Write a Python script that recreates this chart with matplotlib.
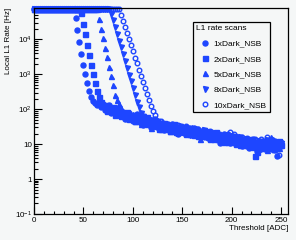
import numpy as np
import matplotlib
matplotlib.use("Agg")
import matplotlib.pyplot as plt
from matplotlib.ticker import FixedLocator, FixedFormatter, NullFormatter

plt.rcParams['font.family'] = ['Liberation Sans', 'DejaVu Sans']
plt.rcParams['mathtext.default'] = 'regular'

# scan thresholds [ADC], one point every 2 ADC
thresholds = np.arange(0, 251, 2)

# L1 rates [Hz] for each NSB level (plateau = saturated rate)
plateau = 72000
rate_1x = [plateau] * 21 + [
    41000, 19000, 8500, 3700, 1800, 1000, 560, 340, 220, 170, 150, 135,
    148, 112, 140, 95, 107, 128, 78, 98, 77, 107, 67, 74, 82, 52, 69, 77,
    55, 47, 63, 72, 48, 50, 36, 56, 45, 37, 48, 38, 51, 30, 38, 31.5, 41,
    25, 35, 31, 26, 37.5, 26, 29, 19, 30.5, 26, 20.4, 30, 23, 26, 18.4, 29,
    20, 21.5, 16, 24, 19, 24, 15, 19.5, 16, 21, 14.5, 18, 11, 16, 20, 13.5,
    15, 11, 16, 12, 15.5, 10.6, 12, 9, 14.4, 10.4, 12, 7.7, 11, 13.6, 8.4,
    6.3, 11, 9, 12.5, 7.5, 10, 13.5, 8.5, 11, 6.9, 4.6, 11.5, 8.6]
rate_2x = [plateau] * 24 + [
    56000, 28000, 14000, 7000, 3500, 1900, 1000, 560, 330, 220, 165, 135,
    129, 91, 107, 87, 116, 69, 82, 95, 63, 78, 66, 86, 51, 61, 68, 46, 58,
    64, 42.5, 53, 42, 58, 43, 34, 44, 35, 45.6, 27, 38.5, 32, 41, 27, 34,
    24.4, 30, 37.7, 22.4, 29.7, 23.9, 31, 25.5, 20, 27.6, 20, 25, 20, 27.5,
    17, 23, 18, 24, 17.5, 21, 14, 19, 15.8, 22, 14, 17.6, 12.8, 15.5, 18,
    11.6, 15.4, 12.6, 16.9, 10.4, 13.8, 10.8, 14.4, 9.2, 12, 9.9, 14.3, 8.8,
    10.5, 4.6, 6, 11.5, 8.5, 12, 9, 11, 8, 13, 9, 10.8, 7.8, 12, 9.5]
rate_5x = [plateau] * 33 + [
    38000, 20000, 11000, 5800, 3100, 1650, 900, 480, 260, 180, 140, 110,
    71, 83, 56, 70, 55, 74, 46, 55, 61, 37.5, 50, 56, 38, 47, 29.4, 40, 47,
    34, 40, 28, 42.5, 30, 32, 35.6, 24.4, 33, 27.5, 33.6, 23, 26.5, 23.4,
    30.6, 21, 26.4, 22.3, 30, 18, 22, 24.7, 13.7, 21, 22, 16.6, 22.8, 16.7,
    19.8, 14, 17, 20.6, 14.4, 16.8, 11.6, 17.3, 14.5, 18.2, 11.9, 13.5,
    11.7, 15, 9.6, 13.2, 10.4, 15, 9.4, 11, 13.2, 8.4, 11.6, 9.5, 13.5, 8,
    10, 12, 7, 11, 16, 14, 8.3, 10.7, 7.7, 11.4]
rate_8x = [plateau] * 39 + [
    52000, 35000, 22000, 14500, 9100, 5900, 3800, 2400, 1550, 980, 630,
    400, 260, 165, 112, 80,
    62, 42, 50, 34, 50, 36, 41, 47.5, 30.6, 38.5, 27, 33, 38.4, 26, 33.5,
    27, 34.8, 21, 28.4, 33, 22, 28, 23.8, 28.8, 18.8, 24, 20, 26.4, 18.3,
    23, 16.8, 25, 18.5, 20, 22.2, 14.4, 19.3, 15.3, 19.8, 13.6, 17.6, 14,
    18.8, 11.6, 14.7, 16.8, 10.8, 14.3, 11.3, 15.6, 10.2, 11.5, 13.8, 8.8,
    12.1, 9.9, 13.1, 8.9, 10.5, 12, 7.5, 11, 9, 13, 8, 10, 12, 8.3, 10.7,
    8.6, 10.9]
rate_10x = [plateau] * 44 + [
    49000, 33000, 22400, 14800, 10000, 6800, 4500, 3000, 2040, 1350, 910,
    620, 410, 275, 186, 125, 88, 68,
    45.6, 36, 45.5, 29, 38, 28.8, 38.8, 30.5, 24, 34.8, 28, 35, 22.5, 30,
    23, 32.5, 19.2, 28.2, 21.9, 25.9, 18.7, 28, 18.9, 23.1, 16, 23.4, 19,
    24, 15.3, 19.3, 21.3, 14.9, 18.4, 13.6, 18.6, 15, 18.9, 22, 16.8, 19.6,
    11.7, 14.4, 12, 15.6, 9.8, 12.7, 14.9, 9.9, 12.7, 10.5, 13.7, 8.9, 12,
    14, 9, 11, 16, 8.5, 12, 7, 12.7, 8.7, 5, 11.9]

labels = ['1xDark_NSB', '2xDark_NSB', '5xDark_NSB', '8xDark_NSB', '10xDark_NSB']
markers = ['o', 's', '^', 'v', 'o']
filled = [True, True, True, True, False]
blue = '#1e46ff'
bg = '#f5f7f7'

fig = plt.figure(figsize=(2.96, 2.40), dpi=100, facecolor=bg)
ax = fig.add_axes([34 / 296, 1 - 214 / 240, 254 / 296, 206 / 240], facecolor=bg)

for rates, lab, mk, fl in zip([rate_1x, rate_2x, rate_5x, rate_8x, rate_10x],
                              labels, markers, filled):
    ax.plot(thresholds, rates, linestyle='none', marker=mk,
            markersize=3.6 if fl else 3.3,
            color=blue, markerfacecolor=blue if fl else 'none',
            markeredgewidth=1.0, label=lab, clip_on=False)

ax.set_yscale('log')
ax.set_xlim(0, 257)
ax.set_ylim(0.1, 7.9e4)

# ROOT-like ticks
ax.xaxis.set_major_locator(FixedLocator([0, 50, 100, 150, 200, 250]))
ax.xaxis.set_minor_locator(FixedLocator(np.arange(0, 257, 10)))
yt = [0.1, 1, 10, 100, 1e3, 1e4]
ax.yaxis.set_major_locator(FixedLocator(yt))
ax.yaxis.set_major_formatter(FixedFormatter(
    ['$10^{-1}$', '1', '10', '$10^{2}$', '$10^{3}$', '$10^{4}$']))
ax.yaxis.set_minor_locator(FixedLocator(
    [m * 10.0 ** e for e in range(-1, 5) for m in range(2, 10)]))
ax.yaxis.set_minor_formatter(NullFormatter())
ax.tick_params(which='both', direction='in', top=False, right=False,
               labelsize=5.8, width=0.8, colors='black')
ax.tick_params(axis='x', which='major', length=5, pad=2)
ax.tick_params(axis='x', which='minor', length=2.5)
ax.tick_params(axis='y', which='major', length=6, pad=1.5)
ax.tick_params(axis='y', which='minor', length=3)
for sp in ax.spines.values():
    sp.set_linewidth(0.9)

ax.set_xlabel('Threshold [ADC]', fontsize=5.8, loc='right', labelpad=1)
ax.set_ylabel('Local L1 Rate [Hz]', fontsize=5.8, loc='top', labelpad=2)

leg = ax.legend(loc='upper left', bbox_to_anchor=(0.626, 0.932),
                borderaxespad=0, title='L1 rate scans', fontsize=6,
                title_fontsize=6, alignment='left', fancybox=False,
                edgecolor='black', facecolor=bg, framealpha=1,
                handlelength=2.0, handletextpad=0.1, labelspacing=0.9,
                borderpad=0.4, markerscale=1.0)
leg.get_frame().set_linewidth(0.9)

fig.savefig('out.png', dpi=100, facecolor=bg)
